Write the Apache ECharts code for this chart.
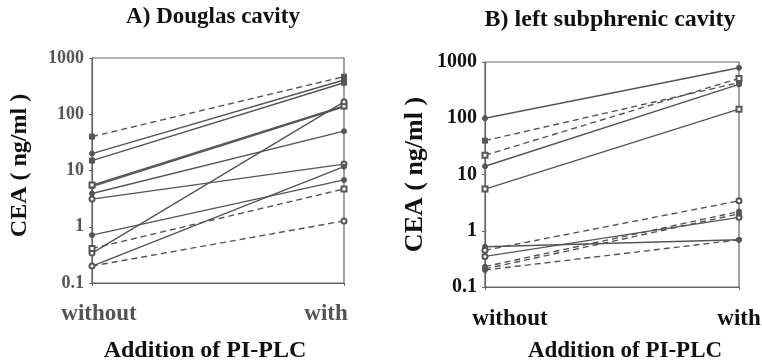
<!DOCTYPE html>
<html>
<head>
<meta charset="utf-8">
<script src="https://cdn.jsdelivr.net/npm/echarts@6/dist/echarts.min.js"></script>
<style>
  html, body { margin: 0; padding: 0; background: #fff; }
  #chart { width: 762px; height: 364px; }
</style>
</head>
<body>
<div id="chart"></div>
<script>
// categories and ticks
const categories = ["without", "with"];
const yTicks = [0.1, 1, 10, 100, 1000];

// A) Douglas cavity, CEA ng/ml
const douglasSolidWithout = [20, 15, 5.2, 5.5, 3.9, 3.1, 0.71, 0.34, 0.2];
const douglasSolidWith = [406, 363, 136, 140, 50, 13, 6.8, 166, 11.7];
const douglasDashedWithout = [40, 0.41, 0.2];
const douglasDashedWith = [466, 4.7, 1.27];

// B) left subphrenic cavity, CEA ng/ml
const subphrenicSolidWithout = [100, 14, 5.5, 0.52, 0.35];
const subphrenicSolidWith = [790, 400, 145, 0.69, 1.73];
const subphrenicDashedWithout = [40, 22, 0.45, 0.23, 0.21, 0.2];
const subphrenicDashedWith = [430, 510, 3.4, 2.2, 2.0, 0.69];

const lineColor = "#555";
const serif = "Liberation Serif";

function pad(shift) {
  // shift a centred label sideways by padding one side
  return shift >= 0 ? [0, 0, 0, 2 * shift] : [0, -2 * shift, 0, 0];
}

function makeSeries(idx, fromArr, toArr, dashed, symbols) {
  return fromArr.map((v, i) => ({
    type: "line",
    xAxisIndex: idx,
    yAxisIndex: idx,
    data: [v, toArr[i]],
    symbol: symbols[i % symbols.length],
    symbolSize: 5,
    silent: true,
    animation: false,
    lineStyle: { color: lineColor, width: 1.4, type: dashed ? [6, 4] : "solid" },
    itemStyle: { color: lineColor, borderColor: lineColor, borderWidth: 1 }
  }));
}

function xAxis(idx, o) {
  const lbl = { fontFamily: serif, fontWeight: "bold", fontSize: 23, color: o.color };
  return {
    type: "category",
    gridIndex: idx,
    data: categories,
    boundaryGap: false,
    axisLine: { lineStyle: { color: "#666", width: 1.2 } },
    axisTick: { show: true, length: 3, lineStyle: { color: "#666" } },
    axisLabel: {
      ...lbl,
      margin: o.margin,
      formatter: (v) => (v === "without" ? "{a|without}" : "{b|with}"),
      rich: {
        a: { ...lbl, padding: pad(o.shiftWithout) },
        b: { ...lbl, padding: pad(o.shiftWith) }
      }
    },
    name: "Addition of PI-PLC",
    nameLocation: "middle",
    nameGap: o.nameGap,
    nameTextStyle: {
      fontFamily: serif, fontWeight: "bold", fontSize: o.nameSize, color: "#111",
      padding: pad(o.nameShift)
    }
  };
}

function yAxis(idx, o) {
  return {
    type: "log",
    gridIndex: idx,
    logBase: 10,
    min: 0.1,
    max: 1000,
    axisLine: { show: true, lineStyle: { color: "#666", width: 1.2 } },
    axisTick: { show: true, length: 3, lineStyle: { color: "#666" } },
    splitLine: { show: false },
    minorTick: { show: false },
    axisLabel: {
      margin: 8,
      fontFamily: serif,
      fontWeight: "bold",
      fontSize: o.tickSize,
      color: o.color,
      formatter: (v) => String(yTicks.find((t) => Math.abs(t - v) / t < 1e-6) ?? v)
    },
    name: "CEA ( ng/ml )",
    nameLocation: "middle",
    nameRotate: 90,
    nameGap: o.nameGap,
    nameTextStyle: {
      fontFamily: serif, fontWeight: "bold", fontSize: o.nameSize, color: "#111",
      padding: pad(o.nameShift)
    }
  };
}

const gridBase = {
  show: true,
  borderColor: "#666",
  borderWidth: 1.2,
  backgroundColor: "transparent",
  containLabel: false,
  outerBoundsMode: "none"
};

const chart = echarts.init(document.getElementById("chart"), null, { renderer: "canvas" });
chart.setOption({
  backgroundColor: "#fff",
  animation: false,
  title: [
    {
      text: "A) Douglas cavity",
      left: 208, top: 1, textAlign: "center",
      textStyle: { fontFamily: serif, fontWeight: "bold", fontSize: 23, color: "#111" }
    },
    {
      text: "B) left subphrenic cavity",
      left: 605, top: 3, textAlign: "center",
      textStyle: { fontFamily: serif, fontWeight: "bold", fontSize: 24, color: "#111" }
    }
  ],
  grid: [
    { ...gridBase, left: 92, right: 418, top: 58, bottom: 81 },
    { ...gridBase, left: 485, right: 23, top: 62, bottom: 77 }
  ],
  xAxis: [
    xAxis(0, { color: "#555", margin: 20, shiftWithout: 7, shiftWith: -18, nameShift: -13, nameGap: 56, nameSize: 24 }),
    xAxis(1, { color: "#111", margin: 21, shiftWithout: 25, shiftWith: 0, nameShift: 13, nameGap: 53, nameSize: 23 })
  ],
  yAxis: [
    yAxis(0, { color: "#555", tickSize: 18, nameSize: 24, nameGap: 60, nameShift: 5 }),
    yAxis(1, { color: "#111", tickSize: 20, nameSize: 26, nameGap: 57, nameShift: 0 })
  ],
  series: [
    ...makeSeries(0, douglasSolidWithout, douglasSolidWith, false, ["circle", "rect", "circle", "emptyRect", "circle", "emptyCircle", "circle", "emptyCircle", "circle"]),
    ...makeSeries(0, douglasDashedWithout, douglasDashedWith, true, ["rect", "emptyRect", "emptyCircle"]),
    ...makeSeries(1, subphrenicSolidWithout, subphrenicSolidWith, false, ["circle", "circle", "emptyRect", "circle", "emptyCircle"]),
    ...makeSeries(1, subphrenicDashedWithout, subphrenicDashedWith, true, ["rect", "emptyRect", "emptyCircle", "circle", "circle", "circle"])
  ]
});
</script>
</body>
</html>
